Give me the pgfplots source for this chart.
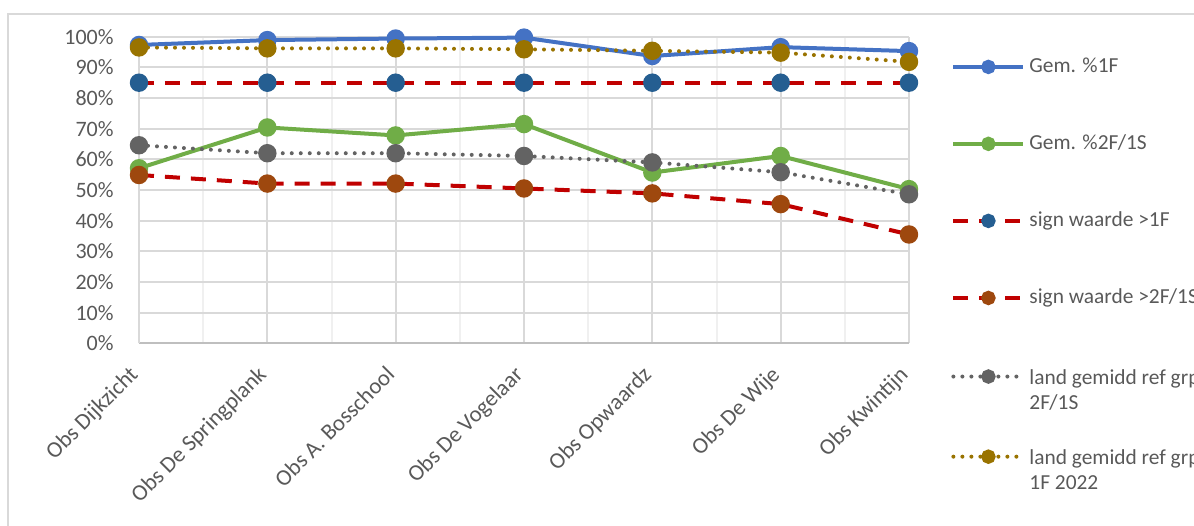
\documentclass[border=0pt]{standalone}
\usepackage{fontspec}
\setmainfont{Carlito}
\usepackage{pgfplots}
\pgfplotsset{compat=1.18}

\definecolor{eenF}{HTML}{4472C4}
\definecolor{tweeF}{HTML}{70AD47}
\definecolor{signrood}{HTML}{C00000}
\definecolor{signblauw}{HTML}{255E91}
\definecolor{signbruin}{HTML}{9E480E}
\definecolor{landgrijs}{HTML}{636363}
\definecolor{landgoud}{HTML}{997300}
\definecolor{tekst}{HTML}{595959}
\definecolor{raster}{HTML}{D9D9D9}
\definecolor{rasterlicht}{HTML}{F0F0F0}
\definecolor{aslijn}{HTML}{BFBFBF}

\newcommand{\tweeregels}[2]{\raisebox{0pt}[\height][0pt]{\begin{tabular}[t]{@{}l@{}}#1\\#2\end{tabular}}}

\begin{document}
\begin{tikzpicture}
  % rand van het grafiekgebied
  \draw[raster, line width=1pt] (4pt,-300pt) |- (700pt,-7pt);

  \begin{axis}[
      at={(69.5pt,-171.65pt)}, anchor=south west,
      scale only axis,
      width=385pt, height=153.3pt,
      xmin=0, xmax=6, ymin=0, ymax=100,
      clip=false,
      xtick={0,...,6},
      xticklabels={Obs Dijkzicht, Obs De Springplank, Obs A. Bosschool,
                   Obs De Vogelaar, Obs Opwaardz, Obs De Wije, Obs Kwintijn},
      ytick={0,10,...,100},
      yticklabel={\pgfmathprintnumber{\tick}\%},
      /pgf/number format/assume math mode=true,
      minor x tick num=1,
      xmajorgrids, ymajorgrids, xminorgrids,
      major grid style={raster, line width=1pt},
      minor grid style={rasterlicht, line width=1pt},
      axis x line*=bottom, axis y line*=left,
      x axis line style={aslijn, line width=1pt, -},
      y axis line style={raster, line width=1pt, -},
      major tick length=0pt, minor tick length=0pt,
      tick label style={font=\fontsize{11}{13}\selectfont, text=tekst},
      yticklabel style={anchor=east, inner sep=0pt, xshift=-12.5pt},
      % verschuivingen gelden in het gedraaide assenstelsel
      xticklabel style={rotate=45, anchor=north east, inner sep=0pt,
                        xshift=-11.3pt, yshift=-3.5pt, font=\fontsize{11.4}{13.5}\selectfont},
      legend cell align=left,
      legend style={at={(1,1)}, anchor=north west, xshift=18pt, yshift=-6.5pt,
                    draw=none, fill=none, row sep=25.6pt,
                    font=\fontsize{10.7}{12.8}\selectfont, text=tekst},
      legend image code/.code={
        \draw[mark repeat=2, mark phase=2, mark size=2.6pt]
          plot coordinates {(0pt,0pt) (17.5pt,0pt) (35pt,0pt)};
      },
      every axis plot/.append style={line width=2pt, mark=*, mark size=3.6pt},
    ]

    \addplot[eenF, mark options={solid, fill=eenF, draw=eenF}]
      coordinates {(0,97.3) (1,98.9) (2,99.4) (3,99.7) (4,93.7) (5,96.6) (6,95.3)};
    \addlegendentry{Gem. \%1F}

    \addplot[tweeF, mark options={solid, fill=tweeF, draw=tweeF}]
      coordinates {(0,57.1) (1,70.4) (2,67.8) (3,71.5) (4,55.7) (5,61.1) (6,50.3)};
    \addlegendentry{Gem. \%2F/1S}

    \addplot[signrood, dash pattern=on 7.5pt off 5.5pt,
             mark options={solid, fill=signblauw, draw=signblauw}]
      coordinates {(0,85) (1,85) (2,85) (3,85) (4,85) (5,85) (6,85)};
    \addlegendentry{sign waarde >1F}

    \addplot[signrood, dash pattern=on 7.5pt off 5.5pt,
             mark options={solid, fill=signbruin, draw=signbruin}]
      coordinates {(0,54.9) (1,52.1) (2,52.1) (3,50.5) (4,48.9) (5,45.4) (6,35.5)};
    \addlegendentry{sign waarde >2F/1S}

    \addplot[landgrijs, line cap=round, dash pattern=on 0pt off 4.5pt,
             mark options={solid, fill=landgrijs, draw=landgrijs}]
      coordinates {(0,64.6) (1,62.0) (2,62.0) (3,61.1) (4,59.0) (5,55.8) (6,48.6)};
    \addlegendentry{\tweeregels{land gemidd ref grp}{2F/1S}}

    \addplot[landgoud, line cap=round, dash pattern=on 0pt off 4.5pt,
             mark options={solid, fill=landgoud, draw=landgoud}]
      coordinates {(0,96.5) (1,96.2) (2,96.2) (3,95.9) (4,95.4) (5,94.8) (6,91.8)};
    \addlegendentry{\tweeregels{land gemidd ref grp}{1F 2022}}
  \end{axis}

  \pgfresetboundingbox
  \useasboundingbox (0pt,0pt) rectangle (597pt,-262.5pt);
\end{tikzpicture}
\end{document}
